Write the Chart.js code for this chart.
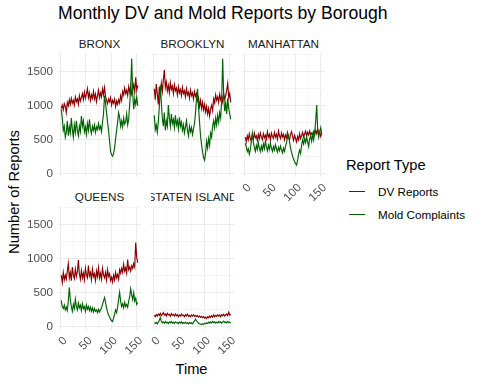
<!DOCTYPE html>
<html>
<head>
<meta charset="utf-8">
<script src="https://cdn.jsdelivr.net/npm/chart.js@4.4.1/dist/chart.umd.min.js"></script>
<style>
  body { margin: 0; width: 480px; height: 384px; background: #fff; position: relative; overflow: hidden;
         font-family: 'Liberation Sans', Arial, sans-serif; }
  .txt { position: absolute; white-space: nowrap; line-height: 1; transform: translateY(-50%); color: #000; }
  .strip { position: absolute; height: 14px; display: flex; justify-content: center; align-items: center;
           overflow: hidden; white-space: nowrap; font-size: 11.7px; color: #1A1A1A; }
  .key { position: absolute; width: 16px; height: 1.2px; }
  canvas { position: absolute; }
</style>
</head>
<body>
<div class="txt" style="left:58px; top:14px; font-size:17.6px;">Monthly DV and Mold Reports by Borough</div>
<div class="txt" style="left:13.5px; top:191.5px; font-size:14.67px; transform:translate(-50%,-50%) rotate(-90deg);">Number of Reports</div>
<div class="txt" style="left:191.5px; top:369px; font-size:14.67px; transform:translate(-50%,-50%);">Time</div>

<div class="txt" style="left:346px; top:165px; font-size:14.67px;">Report Type</div>
<div class="key" style="left:349px; top:191px; background:#8B0000;"></div>
<div class="txt" style="left:378px; top:191.5px; font-size:11.7px;">DV Reports</div>
<div class="key" style="left:349px; top:214px; background:#006400;"></div>
<div class="txt" style="left:378px; top:214.5px; font-size:11.7px;">Mold Complaints</div>

<script>
// months since start (every other month)
const months = [1,3,5,7,9,11,13,15,17,19,21,23,25,27,29,31,33,35,37,39,41,43,45,47,49,51,53,55,57,59,
  61,63,65,67,69,71,73,75,77,79,81,83,85,87,89,91,93,95,97,99,101,103,105,107,109,111,113,115,117,119,
  121,123,125,127,129,131,133,135,137,139,141,143,145,147,149,151,153];

const bronxDV = [960,1010,940,1030,990,900,1050,1000,1090,1020, 1110,1040,1080,1010,1130,1060,1100,1020,1150,1070,
  1120,1180,1090,1200,1110,1170,1250,1120,1190,1080, 1160,1110,1210,1100,1170,1060,1150,1230,1120,1190,
  1130,1250,1160,1270,1140,1080,1030,1100,1060,1120, 1010,1080,1040,1100,990,1070,1020,1090,1040,1150,
  1080,1210,1160,1260,1180,1230,1150,1280,1200,1300, 1170,1240,1310,1200,1420,1230,1300];
const bronxMold = [950,820,640,700,540,610,780,560,690,600, 820,650,540,720,610,780,640,560,700,620,
  850,700,780,620,690,580,740,640,800,660, 590,700,640,720,610,690,650,740,660,700,
  620,760,880,1150,1040,900,760,640,480,330, 280,260,300,380,520,640,760,900,830,700,
  780,690,820,730,760,880,720,800,1020,1260, 1690,1180,950,1100,1020,1130,1000];

const brooklynDV = [1250,1090,1320,1180,1020,1280,1150,1330,1210,1380, 1530,1270,1350,1220,1300,1190,1340,1240,1290,1180,
  1310,1220,1260,1160,1280,1190,1240,1150,1270,1180, 1220,1130,1250,1160,1200,1110,1230,1150,1190,1100,
  1210,1140,1180,1070,1120,990,1080,960,1050,940, 1020,910,990,880,960,850,950,1010,930,1100,
  1040,1160,1080,1130,1050,1170,1090,1140,1060,1180, 1100,1150,1230,1330,1120,1180,1050];
const brooklynMold = [860,650,720,610,760,980,1300,1050,820,700, 900,640,780,700,1010,820,700,880,740,800,
  680,860,720,780,660,830,700,760,640,720, 600,690,780,640,560,700,620,680,580,660,
  740,900,1120,1250,980,760,560,430,320,240, 200,310,480,380,520,420,600,540,700,780,
  680,820,720,860,760,900,820,1080,1690,1150, 920,1040,880,1110,960,880,800];

const manhattanDV = [540,470,560,500,590,520,480,570,510,600, 530,560,490,580,520,600,540,500,590,530,
  570,510,620,540,580,500,600,550,520,610, 540,580,510,630,560,520,600,540,580,500,
  570,530,610,540,500,580,620,550,490,570, 520,470,550,500,590,520,560,610,540,590,
  630,560,610,570,630,580,600,550,620,570, 640,590,660,580,620,550,600];
const manhattanMold = [450,400,330,370,290,350,480,600,470,390, 330,420,360,460,380,330,410,350,440,370,
  480,400,340,420,360,450,380,330,400,350, 430,370,320,390,340,410,350,310,380,330,
  400,460,540,570,470,380,320,260,220,180, 150,130,200,290,350,300,420,500,440,520,
  460,540,470,400,510,560,480,580,500,620, 780,1010,640,540,620,680,590];

const queensDV = [760,650,800,690,760,700,820,930,720,800, 680,880,760,710,850,740,810,980,780,700,
  830,720,790,690,860,760,720,900,750,800, 690,850,740,780,680,820,740,870,720,790,
  700,860,760,720,800,690,840,740,780,680, 730,660,760,690,800,720,770,700,840,790,
  860,800,920,820,870,790,990,840,880,820, 900,860,930,880,1240,1020,940];
const queensMold = [390,300,270,320,250,290,240,380,580,400, 300,230,330,270,410,300,250,350,280,320,
  240,340,270,300,230,320,260,300,240,290, 230,280,220,270,230,250,210,260,220,250,
  280,330,380,430,360,280,220,170,150,110, 90,80,130,190,250,210,290,410,510,380,
  300,340,280,360,300,330,290,380,440,560, 470,400,500,380,420,330,360];

const statenDV = [170,150,180,160,190,170,200,165,185,210, 175,190,160,200,175,185,155,195,170,185,
  160,190,165,180,150,175,160,190,165,175, 150,180,160,185,155,170,150,175,160,180,
  155,170,150,165,145,160,140,155,135,150, 130,145,125,150,135,160,140,165,145,175,
  150,170,155,180,160,175,150,180,165,185, 160,175,190,165,215,175,185];
const statenMold = [60,50,65,45,70,95,140,85,60,75, 55,80,60,70,50,75,60,80,55,70,
  50,75,60,65,50,70,55,75,50,65, 55,70,50,60,45,65,50,60,45,70,
  85,115,90,70,55,45,40,38,45,40, 55,45,60,50,70,55,75,60,80,65,
  75,55,70,60,80,65,75,55,70,85, 65,75,60,80,65,70,55];

const xTicks = [0, 25, 50, 75, 100, 125, 150];
const xLabels = [0, 50, 100, 150];
const yTicks = [0, 250, 500, 750, 1000, 1250, 1500, 1750];
const yLabels = [0, 500, 1000, 1500];

const panels = [
  { name: 'BRONX',         dv: bronxDV,     mold: bronxMold,     left: 58,  top: 53,  showX: false, showY: true },
  { name: 'BROOKLYN',      dv: brooklynDV,  mold: brooklynMold,  left: 151, top: 53,  showX: false, showY: false },
  { name: 'MANHATTAN',     dv: manhattanDV, mold: manhattanMold, left: 242, top: 53,  showX: true,  showY: false },
  { name: 'QUEENS',        dv: queensDV,    mold: queensMold,    left: 58,  top: 206, showX: true,  showY: true },
  { name: 'STATEN ISLAND', dv: statenDV,    mold: statenMold,    left: 151, top: 206, showX: true,  showY: false }
];

const PW = 83, PH = 124, PAD = 4;
const tickFont = { family: "'Liberation Sans', Arial, sans-serif", size: 11.7 };

function gridStyle(labelled) {
  return {
    color: ctx => labelled.includes(ctx.tick.value) ? '#EBEBEB' : '#F3F3F3',
    lineWidth: ctx => labelled.includes(ctx.tick.value) ? 1.1 : 0.8,
    drawTicks: false
  };
}

panels.forEach(p => {
  const yW = p.showY ? 40 : 0;
  const xH = p.showX ? 34 : 0;

  const strip = document.createElement('div');
  strip.className = 'strip';
  strip.style.left = p.left + 'px';
  strip.style.width = PW + 'px';
  strip.style.top = (p.top - 17) + 'px';
  strip.textContent = p.name;
  document.body.appendChild(strip);

  const c = document.createElement('canvas');
  c.width = yW + PW + PAD;
  c.height = PAD + PH + xH;
  c.style.left = (p.left - yW) + 'px';
  c.style.top = (p.top - PAD) + 'px';
  document.body.appendChild(c);

  new Chart(c, {
    type: 'line',
    data: {
      datasets: [
        { label: 'Mold Complaints', data: months.map((m, i) => ({ x: m, y: p.mold[i] })),
          borderColor: '#006400', borderWidth: 1.15, pointRadius: 0, fill: false, tension: 0 },
        { label: 'DV Reports', data: months.map((m, i) => ({ x: m, y: p.dv[i] })),
          borderColor: '#8B0000', borderWidth: 1.15, pointRadius: 0, fill: false, tension: 0 }
      ]
    },
    options: {
      responsive: false,
      animation: false,
      devicePixelRatio: 1,
      layout: { padding: { top: PAD, right: PAD, left: 0, bottom: 0 } },
      plugins: { legend: { display: false }, tooltip: { enabled: false } },
      scales: {
        x: {
          type: 'linear', min: -5.5, max: 159.5,
          border: { display: false },
          grid: gridStyle(xLabels),
          afterBuildTicks: s => { s.ticks = xTicks.map(v => ({ value: v })); },
          afterFit: s => { s.height = xH; s.paddingLeft = 0; s.paddingRight = 0; },
          ticks: {
            display: p.showX, autoSkip: false, minRotation: 45, maxRotation: 45, padding: 4,
            labelOffset: 4.5, color: '#4D4D4D', font: tickFont,
            callback: v => xLabels.includes(v) ? String(v) : ''
          }
        },
        y: {
          min: -45, max: 1775,
          border: { display: false },
          grid: gridStyle(yLabels),
          afterBuildTicks: s => { s.ticks = yTicks.map(v => ({ value: v })); },
          afterFit: s => { s.width = yW; s.paddingTop = 0; s.paddingBottom = 0; },
          ticks: {
            display: p.showY, padding: 5, color: '#4D4D4D', font: tickFont,
            callback: v => yLabels.includes(v) ? String(v) : ''
          }
        }
      }
    }
  });
});
</script>
</body>
</html>
